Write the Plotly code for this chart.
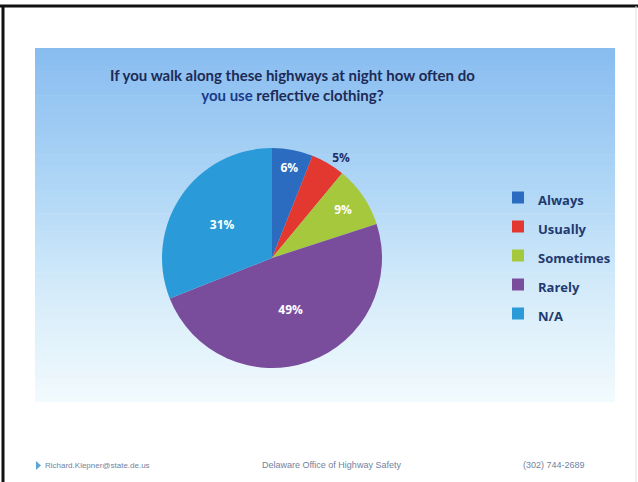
import plotly.graph_objects as go

categories = ["Always", "Usually", "Sometimes", "Rarely", "N/A"]
values = [6, 5, 9, 49, 31]
slice_colors = ["#2b6cc0", "#e2382f", "#a5c83c", "#7a4d9c", "#2a9bd8"]
text_positions = ["inside", "outside", "inside", "inside", "inside"]
text_colors = ["white", "#1f2f66", "white", "white", "white"]

W, H = 638, 482
px = lambda x: x / W
py = lambda y: 1 - y / H

legend_labels = ["<span style='font-size:13px'>%s</span>" % c for c in categories]

fig = go.Figure()

fig.add_trace(go.Pie(
    labels=legend_labels,
    values=values,
    sort=False,
    direction="clockwise",
    rotation=0,
    marker=dict(colors=slice_colors, line=dict(width=0)),
    textinfo="percent",
    texttemplate="%{percent:.0%}",
    textposition=text_positions,
    insidetextorientation="horizontal",
    textfont=dict(family="Open Sans", size=12, color=text_colors, weight="bold"),
    outsidetextfont=dict(family="Open Sans", size=12, color="#1f2f66", weight="bold"),
    domain=dict(x=[px(162), px(382)], y=[py(368), py(148)]),
    hoverinfo="label+percent",
    showlegend=True,
))

# gradient panel built from bands
shapes = []
x0, x1, y0, y1 = 35, 615, 48, 402
stops = [(0.0, (136, 188, 240)), (0.4, (176, 215, 246)), (0.7, (214, 236, 250)), (1.0, (242, 250, 253))]
def col(t):
    for i in range(len(stops) - 1):
        a, ca = stops[i]
        b, cb = stops[i + 1]
        if a <= t <= b:
            f = (t - a) / (b - a)
            return "rgb(%d,%d,%d)" % tuple(round(ca[k] + f * (cb[k] - ca[k])) for k in range(3))
    return "rgb(242,250,253)"
n = 60
for i in range(n):
    ya = y0 + (y1 - y0) * i / n
    yb = y0 + (y1 - y0) * (i + 1) / n + 0.6
    shapes.append(dict(type="rect", xref="paper", yref="paper", layer="below",
                       x0=px(x0), x1=px(x1), y0=py(min(yb, y1)), y1=py(ya),
                       line=dict(width=0), fillcolor=col((i + 0.5) / n)))
# page border
shapes.append(dict(type="line", xref="paper", yref="paper", x0=0, x1=1, y0=py(6), y1=py(6),
                   line=dict(color="#111111", width=3)))
shapes.append(dict(type="line", xref="paper", yref="paper", x0=px(3), x1=px(3), y0=0, y1=py(6),
                   line=dict(color="#111111", width=3)))
shapes.append(dict(type="line", xref="paper", yref="paper", x0=px(636), x1=px(636), y0=0, y1=py(6),
                   line=dict(color="#dddddd", width=1)))
# footer bullet
shapes.append(dict(type="path", xref="paper", yref="paper",
                   path="M %f %f L %f %f L %f %f Z" % (px(36), py(461), px(36), py(470), px(41), py(465.5)),
                   fillcolor="#5aa6d8", line=dict(width=0)))

annotations = [
    dict(text="<b>If you walk along these highways at night how often do</b><br><b><span style='color:#1a3a8c'>you use</span> reflective clothing?</b>",
         x=px(292), y=py(85), xref="paper", yref="paper", showarrow=False,
         xanchor="center", yanchor="middle",
         font=dict(family="Lato", size=15, color="#1c2b55"), align="center"),
    dict(text="Richard.Klepner@state.de.us", x=px(43), y=py(465), xref="paper", yref="paper",
         xanchor="left", yanchor="middle", showarrow=False,
         font=dict(family="Liberation Sans", size=8, color="#7282a0")),
    dict(text="Delaware Office of Highway Safety", x=px(331), y=py(465), xref="paper", yref="paper",
         xanchor="center", yanchor="middle", showarrow=False,
         font=dict(family="Liberation Sans", size=9, color="#7282a0")),
    dict(text="(302) 744-2689", x=px(554), y=py(465), xref="paper", yref="paper",
         xanchor="center", yanchor="middle", showarrow=False,
         font=dict(family="Liberation Sans", size=9, color="#7282a0")),
]

fig.update_layout(
    width=W, height=H,
    margin=dict(l=0, r=0, t=0, b=0),
    paper_bgcolor="white",
    plot_bgcolor="white",
    shapes=shapes,
    annotations=annotations,
    legend=dict(x=px(498), y=py(178), xanchor="left", yanchor="top",
                font=dict(family="Open Sans", size=20, color="#1f3a70", weight="bold"),
                bgcolor="rgba(0,0,0,0)", itemwidth=30,
                itemclick=False),
    uniformtext=dict(minsize=8),
)

fig.write_html("out.html", config={"displayModeBar": False},
               post_script="document.body.style.margin='0';document.body.style.overflow='hidden';")
